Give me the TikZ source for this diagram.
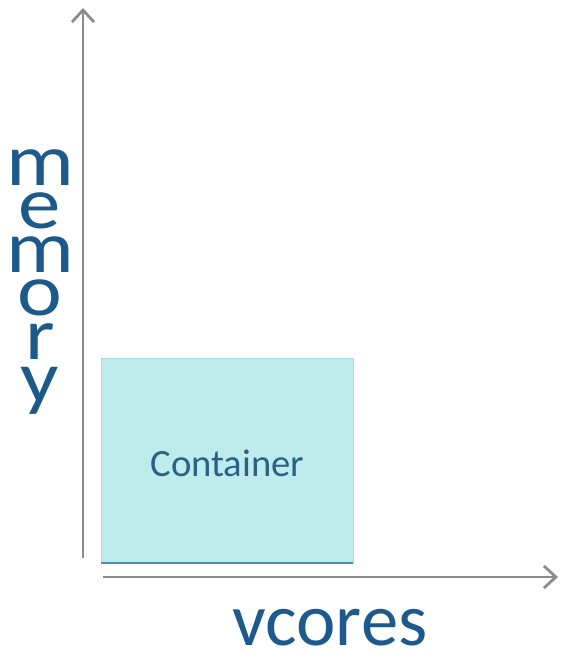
\documentclass[tikz,border=0pt]{standalone}
\usepackage{fontspec}
\setmainfont{Carlito}
\usetikzlibrary{arrows.meta}
\definecolor{axisgray}{HTML}{8C8C8C}
\definecolor{labelblue}{HTML}{1D5A8C}
\definecolor{boxfill}{HTML}{BEEBEC}
\definecolor{boxedge}{HTML}{A6DDE0}
\definecolor{boxline}{HTML}{4F8FB0}
\definecolor{boxtext}{HTML}{2B6184}
\tikzset{
  axis/.style={draw=axisgray, line width=1.1pt, -{Straight Barb[length=2.4mm, width=4.4mm, line width=1.6pt]}},
  biglabel/.style={text=labelblue, inner sep=0pt}
}
\begin{document}
\begin{tikzpicture}
  \useasboundingbox (0,0) rectangle (11.4,13.14);
  % Nodes
  \node (container) [rectangle, fill=boxfill, draw=boxedge, line width=0.4pt, minimum width=5.04cm, minimum height=4.1cm, inner sep=0pt] at (4.54, 3.93) {};
  \node (name) [font=\fontsize{22}{22}\selectfont, text=boxtext, anchor=base] at (4.55, 3.6) {Container};
  \node (vcores) [biglabel, font=\fontsize{42.5}{42.5}\selectfont, anchor=base] at (6.6, 0.24) {vcores};
  \node (memory) [biglabel, font=\fontsize{42}{24.8}\selectfont, align=center, xscale=1.15, anchor=base] at (0.8, 5.08) {m\\e\\m\\o\\r\\y};
  % Axes
  \coordinate (yfoot) at (1.66, 1.98);
  \coordinate (ytip) at (1.66, 12.98);
  \coordinate (xfoot) at (2.06, 1.6);
  \coordinate (xtip) at (11.16, 1.6);
  \draw[boxline, line width=1pt] (container.south west) -- (container.south east);
  \draw[axis] (yfoot) -- (ytip);
  \draw[axis] (xfoot) -- (xtip);
\end{tikzpicture}
\end{document}
